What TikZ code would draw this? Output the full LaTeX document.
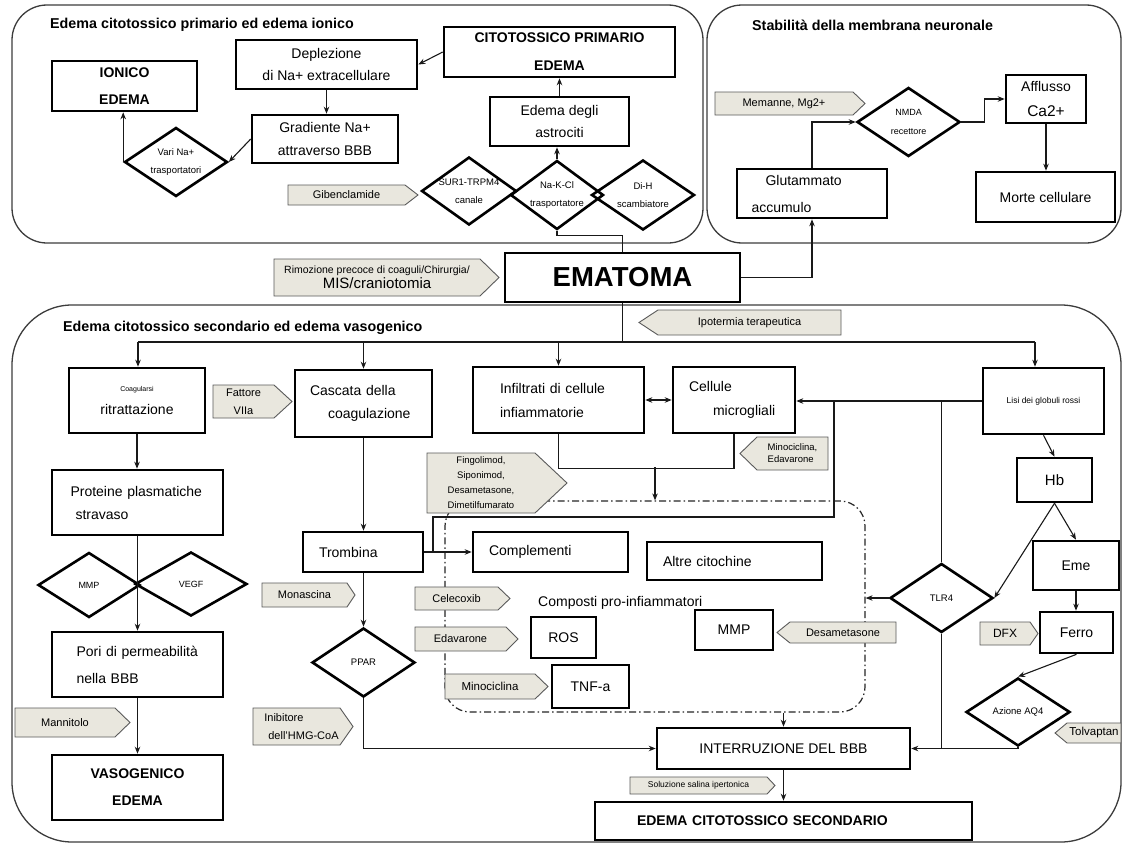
\documentclass[tikz,border=0pt]{standalone}
\usepackage{fontspec}
\setmainfont{Liberation Sans}
\usetikzlibrary{arrows.meta,shapes.geometric}
\definecolor{tagfill}{RGB}{233,231,222}
\definecolor{tagline}{RGB}{90,90,90}
\definecolor{panelc}{RGB}{60,60,60}
\tikzset{
 box/.style={draw=black,line width=2.6pt,fill=white,inner sep=1pt,align=center,font=\fontsize{14}{23}\selectfont},
 dia/.style={shape=diamond,draw=black,line width=2.6pt,inner sep=0pt},
 dtext/.style={align=center,inner sep=0pt,font=\fontsize{9.5}{18}\selectfont},
 tagb/.style={draw=tagline,fill=tagfill,line width=0.9pt,line join=miter},
 tagt/.style={align=center,inner sep=0pt,font=\fontsize{11}{15}\selectfont},
 panel/.style={draw=panelc,line width=1.3pt,rounded corners=35pt},
 conn/.style={draw=black!90,line width=1.1pt},
 arr/.style={conn,-{Stealth[length=7pt,width=5.5pt]}},
 darr/.style={conn,{Stealth[length=7pt,width=5.5pt]}-{Stealth[length=7pt,width=5.5pt]}},
 ttl/.style={anchor=west,inner sep=0pt,font=\fontsize{14.3}{16}\selectfont\bfseries},
 dashbox/.style={draw=black!85,line width=1.2pt,dash pattern=on 7pt off 3pt on 1.5pt off 3pt,rounded corners=25pt,inner sep=0pt},
}
\newcommand\bx[7][]{%
  \pgfmathsetmacro\bw{#5-#3}%
  \pgfmathsetmacro\bh{#6-#4}%
  \pgfmathsetmacro\bcx{(#3+#5)/2}%
  \pgfmathsetmacro\bcy{(#4+#6)/2}%
  \node[box,minimum width=\bw pt,minimum height=\bh pt,#1] (#2) at (\bcx,\bcy) {#7};}
\newcommand\dm[7][]{%
  \node[dia,minimum width=#5pt,minimum height=#6pt] (#2) at (#3,#4) {};
  \node[dtext,#1] (#2-t) at (#3,#4) {#7};}
\newcommand\tg[8][]{%
  \pgfmathsetmacro\tym{(#4+#6)/2}%
  \ifdim #7pt>0pt
    \pgfmathsetmacro\txa{#5-#7}%
    \draw[tagb] (#3,#4) -- (\txa,#4) -- (#5,\tym) -- (\txa,#6) -- (#3,#6) -- cycle;
    \pgfmathsetmacro\txc{(#3+\txa)/2}%
  \else
    \pgfmathsetmacro\txa{#3-(#7)}%
    \draw[tagb] (#5,#4) -- (\txa,#4) -- (#3,\tym) -- (\txa,#6) -- (#5,#6) -- cycle;
    \pgfmathsetmacro\txc{(#5+\txa)/2}%
  \fi
  \node[tagt,#1] (#2) at (\txc,\tym) {#8};}
\begin{document}
\begin{tikzpicture}[x=1pt,y=-1pt]
\useasboundingbox (0,0) rectangle (1124,843);
\fill[white] (0,0) rectangle (1124,843);
% panels
\draw[panel] (12,5) rectangle (703,243);
\draw[panel] (707,5) rectangle (1121,243);
\draw[panel,rounded corners=60pt] (12,305) rectangle (1121,842);
\node[ttl] (t1) at (50,25) {Edema citotossico primario ed edema ionico};
\node[ttl] (t2) at (752,25) {Stabilità della membrana neuronale};
\node[ttl] (t3) at (63,328) {Edema citotossico secondario ed edema vasogenico};
% top-left
\bx[font=\fontsize{14}{27}\selectfont\bfseries]{ionico}{52}{61}{197}{111}{IONICO\\EDEMA}
\bx[font=\fontsize{14}{22}\selectfont]{deplez}{236}{40}{417}{89}{Deplezione\\di Na+ extracellulare}
\bx{grad}{252}{115}{398}{163}{Gradiente Na+\\attraverso BBB}
\bx[font=\fontsize{14}{28}\selectfont\bfseries]{cito}{444}{27}{675}{77}{CITOTOSSICO PRIMARIO\\EDEMA}
\bx[font=\fontsize{14}{22}\selectfont]{astro}{490}{97}{629}{146}{Edema degli\\astrociti}
\dm{vari}{176}{162}{103}{69}{Vari Na+\\trasportatori}
\dm{sur}{469}{191}{95}{68}{SUR1-TRPM4\\canale}
\dm{nakcl}{557}{195}{93}{69}{Na-K-Cl\\trasportatore}
\dm{dih}{643}{195}{103}{70}{Di-H\\scambiatore}
\tg{gib}{288}{185}{418}{205}{13}{Gibenclamide}
% ematoma
\bx[font=\fontsize{27.5}{30}\selectfont\bfseries]{ema}{505}{253}{740}{302}{EMATOMA}
\tg[font=\fontsize{10.5}{15}\selectfont]{rim}{274}{259}{499}{296}{19}{Rimozione precoce di coaguli/Chirurgia/\\{\fontsize{15}{15}\selectfont MIS/craniotomia}}
\tg{ipo}{639}{310}{841}{335}{-19}{Ipotermia terapeutica}
% top-right
\tg{mem}{715}{92}{865}{115}{12}{Memanne, Mg2+}
\dm[font=\fontsize{9}{19}\selectfont]{nmda}{908.5}{122}{103}{69}{NMDA\\recettore}
\bx[font=\fontsize{14}{25}\selectfont]{affl}{1006}{75}{1086}{123}{Afflusso\\{\fontsize{15.5}{25}\selectfont Ca2+}}
\bx{morte}{976}{172}{1115}{222}{Morte cellulare}
\bx[font=\fontsize{14}{27}\selectfont,text width=135pt,align=left,inner sep=0pt]{glut}{737}{169}{887}{218}{\hspace*{21pt}Glutammato\\\hspace*{7pt}accumulo}
% bottom left
\bx{coag}{69}{368}{205}{433}{{\fontsize{7}{23}\selectfont Coagularsi}\\ritrattazione}
\tg[font=\fontsize{11}{18}\selectfont]{fatt}{213}{385}{292}{418}{18}{Fattore\\VIIa}
\bx[text width=134pt,align=left,inner sep=0pt]{prot}{52}{470}{223}{535}{Proteine plasmatiche\\\hspace*{5pt}stravaso}
\dm[font=\fontsize{9}{12}\selectfont]{mmp}{89}{585}{102}{65}{MMP}
\dm[font=\fontsize{9}{12}\selectfont]{vegf}{191}{584}{112}{64}{VEGF}
\bx[font=\fontsize{14}{27}\selectfont,text width=122pt,align=left,inner sep=0pt]{pori}{52}{632}{223}{697}{Pori di permeabilità\\nella BBB}
\tg{mann}{15}{708}{130}{737}{15}{Mannitolo}
\bx[font=\fontsize{14}{27}\selectfont\bfseries]{vaso}{52}{755}{223}{820}{VASOGENICO\\EDEMA}
% middle
\node[dashbox,minimum width=420pt,minimum height=211pt] (pro) at (655,606.5) {};
\bx[text width=107pt,align=left,inner sep=0pt]{casc}{295}{370}{432}{437}{Cascata della\\\hspace*{18pt}coagulazione}
\bx[font=\fontsize{14}{24}\selectfont,text width=117pt,align=left,inner sep=0pt]{infl}{473}{367}{644}{433}{Infiltrati di cellule\\infiammatorie}
\bx[font=\fontsize{14}{24}\selectfont,text width=90pt,align=left,inner sep=0pt]{cell}{673}{367}{795}{433}{Cellule\\\hspace*{24pt}microgliali}
\tg[font=\fontsize{9.5}{12}\selectfont,align=left]{mined}{740}{437}{828}{470}{-17}{Minociclina,\\Edavarone}
\bx[font=\fontsize{8.5}{10}\selectfont]{lisi}{983}{368}{1104}{434}{Lisi dei globuli rossi}
\bx[text width=88pt,align=left,inner sep=0pt]{trom}{303}{532}{423}{572}{Trombina}
\bx[text width=123pt,align=left,inner sep=0pt]{compl}{473}{532}{628}{572}{Complementi}
\bx[text width=143pt,align=left,inner sep=0pt]{altre}{647}{542}{822}{580}{Altre citochine}
\tg[font=\fontsize{9.5}{15}\selectfont]{fing}{427}{453}{567}{513}{32}{Fingolimod,\\Siponimod,\\Desametasone,\\Dimetilfumarato}
\tg{mona}{262}{583}{355}{607}{8}{Monascina}
\tg{cele}{415}{587}{510}{610}{12}{Celecoxib}
\tg{edav}{415}{627}{518}{651}{12}{Edavarone}
\tg[font=\fontsize{11.5}{15}\selectfont]{mino}{445}{674}{548}{699}{13}{Minociclina}
\node[anchor=west,inner sep=0pt,font=\fontsize{14}{16}\selectfont] (comp) at (538,603) {Composti pro-infiammatori};
\bx{ros}{531}{617}{596}{658}{ROS}
\bx{tnf}{552}{665}{629}{708}{TNF-a}
\bx{mmpb}{695}{610}{773}{650}{MMP}
\tg{desa}{777}{622}{896}{643}{-13}{Desametasone}
\dm{ppar}{363.5}{662.5}{103}{69}{PPAR}
\tg[font=\fontsize{11}{18}\selectfont,align=left,xshift=5pt]{inib}{253}{708}{353}{745}{13}{Inibitore\\\hspace*{4pt}dell'HMG-CoA}
% right
\dm{tlr}{941.5}{598}{103}{69}{TLR4}
\bx[font=\fontsize{15}{16}\selectfont]{hb}{1017}{458}{1092}{502}{Hb}
\bx{eme}{1033}{541}{1119}{590}{Eme}
\bx{ferro}{1040}{612}{1113}{653}{Ferro}
\tg[font=\fontsize{12}{15}\selectfont]{dfx}{980}{622}{1038}{645}{8}{DFX}
\dm[font=\fontsize{9.5}{12}\selectfont]{aq}{1018}{712}{104}{68}{Azione AQ4}
\tg[font=\fontsize{11.5}{15}\selectfont]{tolv}{1055}{723}{1121}{743}{-12}{Tolvaptan}
\bx{interr}{657}{728}{910}{769}{INTERRUZIONE DEL BBB}
\tg[font=\fontsize{8.5}{10}\selectfont]{sol}{630}{777}{775}{794}{8}{Soluzione salina ipertonica}
\bx[font=\fontsize{14}{16}\selectfont\bfseries,text width=357pt,align=left,inner sep=0pt]{edsec}{595}{802}{972}{840}{\hspace*{32pt}EDEMA CITOTOSSICO SECONDARIO}
% connectors top-left
\draw[arr] (deplez.south) -- (deplez.south|-grad.north);
\draw[arr] (cito.west) -- (deplez.east);
\draw[arr] (astro.north) -- (astro.north|-cito.south);
\draw[arr] (nakcl.north) -- (nakcl.north|-astro.south);
\draw[arr] (grad.west) -- (vari.east);
\draw[arr] (vari.west) -- (vari.west|-ionico.south);
\draw[conn] (nakcl.south) -- ++(0,5) -| (ema.north);
% connectors top-right
\draw[arr] (ema.east) -| (glut.south);
\draw[arr] (glut.north) |- (nmda.west);
\draw[arr] (nmda.east) -- ++(23,0) |- (affl.west);
\draw[arr] (affl.south) -- (affl.south|-morte.north);
% distribution
\coordinate (dl) at (138,342);
\coordinate (dr) at (1035,342);
\draw[conn] (ema.south) -- (ema.south|-dl);
\draw[conn] (dl) -- (dr);
\draw[arr] (dl) -- (dl|-coag.north);
\draw[arr] (casc.north|-dl) -- (casc.north);
\draw[arr] (infl.north|-dl) -- (infl.north);
\draw[arr] (dr) -- (dr|-lisi.north);
% left column
\draw[arr] (coag.south) -- (coag.south|-prot.north);
\draw[arr] (prot.south) -- (prot.south|-pori.north);
\draw[arr] (pori.south) -- (pori.south|-vaso.north);
% middle
\draw[arr] (casc.south) -- (casc.south|-trom.north);
\draw[arr] (trom.east) -- (compl.west);
\draw[arr] (ppar.north|-trom.south) -- (ppar.north);
\draw[arr] (ppar.south) |- (interr.west);
\draw[darr] (infl.east) -- (cell.west);
\draw[conn] (infl.south) -- ++(0,34) -| (cell.south);
\coordinate (mj) at (655,467);
\draw[arr] (mj) -- (mj|-pro.north);
% right
\draw[arr] (lisi.west) -- (lisi.west-|cell.east);
\coordinate (ja) at (834,401);
\coordinate (jb) at (433,552);
\draw[conn] (ja) -- ++(0,116) -| (jb);
\draw[conn] (tlr.north|-lisi.west) -- (tlr.north);
\draw[arr] (tlr.west) -- (tlr.west-|pro.east);
\draw[conn] (tlr.south) -- (tlr.south|-interr.east);
\draw[arr] (aq.south) |- (interr.east);
\draw[arr] (lisi.south) -- (hb.north);
\draw[arr] (hb.south) -- (eme.north);
\draw[arr] (hb.south) -- (tlr.east);
\draw[arr] (eme.south) -- (eme.south|-ferro.north);
\draw[arr] (ferro.south) -- (aq.north);
\draw[arr] (interr.north|-pro.south) -- (interr.north);
\draw[arr] (interr.south) -- (interr.south|-edsec.north);
\end{tikzpicture}
\end{document}
